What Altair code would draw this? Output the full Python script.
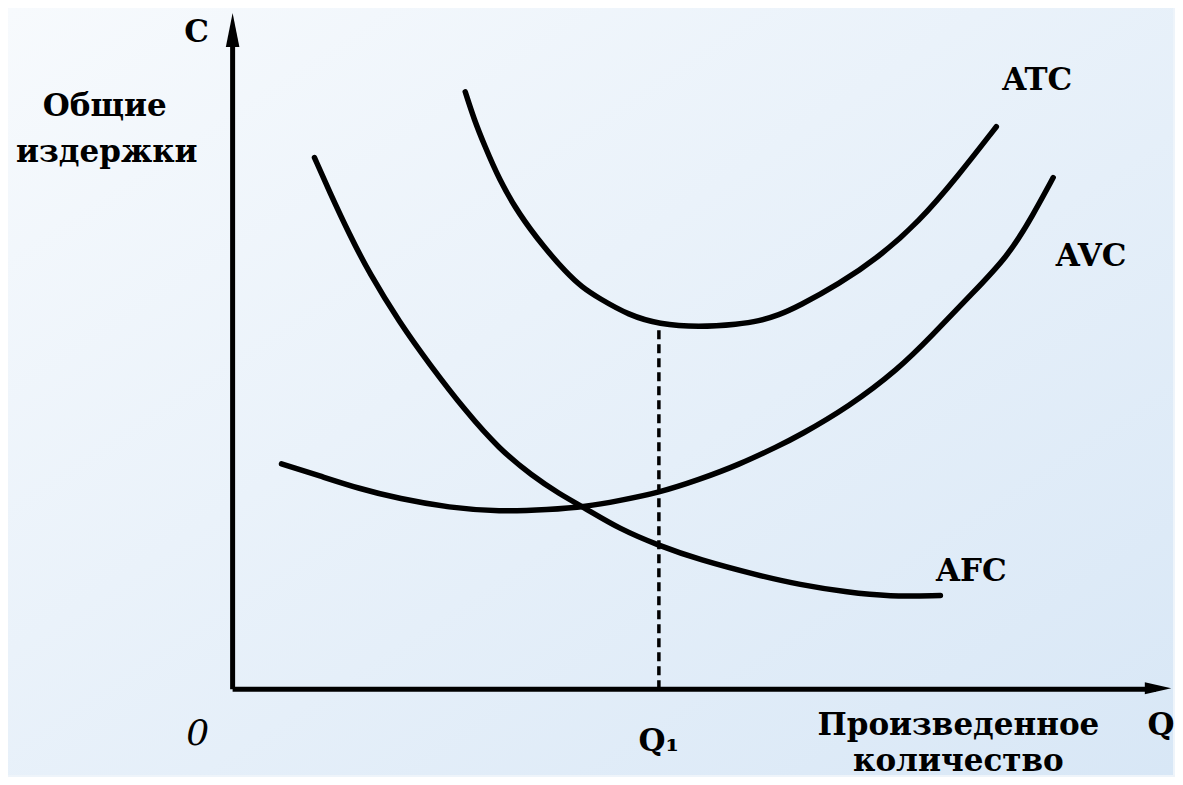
import altair as alt
import pandas as pd

# Data units: Q (quantity) and C (cost), origin at the axes' corner
atc_q = [233, 242, 252, 267, 287, 312, 334, 350, 367, 397, 427, 467, 507, 527, 547, 567, 607, 647, 687, 727, 765]
atc_c = [599, 571, 546, 511, 476, 443, 418, 403, 392, 375, 366, 363, 366, 369, 375, 384, 406, 433, 468, 515, 564]

avc_q = [49, 87, 127, 167, 217, 267, 317, 354, 387, 427, 467, 507, 547, 567, 617, 667, 700, 737, 777, 802, 822]
avc_c = [226, 214, 201, 191, 182, 178, 180, 183, 189, 197, 210, 225, 244, 254, 283, 321, 354, 393, 434, 476, 513]

afc_q = [82, 97, 117, 137, 167, 197, 234, 267, 300, 327, 354, 387, 427, 467, 527, 567, 617, 657, 709]
afc_c = [533, 499, 456, 417, 368, 326, 278, 241, 214, 196, 181, 161, 144, 130, 114, 105, 97, 93, 94]

q1 = 427
q1_top = 364

y_axis_q = [0, 0]
y_axis_c = [0, 655]
x_axis_q = [0, 925]
x_axis_c = [0, 0]

labels_text = ["C", "Общие", "издержки", "ATC", "AVC", "AFC", "Q₁", "Произведенное", "количество", "Q"]
labels_q = [-36, -128, -126, 806, 860, 740, 427, 727, 727, 930]
labels_c = [649, 575, 529, 601, 424, 109, -62, -46, -82, -46]

X_DOM = [-225, 942]
Y_DOM = [-86, 683]

xs = alt.Scale(domain=X_DOM, nice=False, zero=False)
ys = alt.Scale(domain=Y_DOM, nice=False, zero=False)

def curve_df(qs, cs, name):
    return pd.DataFrame({"Q": qs, "C": cs, "curve": name, "order": range(len(qs))})

curves = pd.concat([
    curve_df(atc_q, atc_c, "ATC"),
    curve_df(avc_q, avc_c, "AVC"),
    curve_df(afc_q, afc_c, "AFC"),
])

X = alt.X("Q:Q", scale=xs, axis=None)
Y = alt.Y("C:Q", scale=ys, axis=None)

bg = alt.Gradient(
    gradient="linear",
    stops=[alt.GradientStop(offset=0, color="#f7fafd"), alt.GradientStop(offset=1, color="#d8e7f6")],
    x1=0, y1=0, x2=1, y2=1,
)
bg_layer = alt.Chart(pd.DataFrame({"Q": [X_DOM[0]], "Q2": [X_DOM[1]], "C": [Y_DOM[0]], "C2": [Y_DOM[1]]})).mark_rect(
    color=bg
).encode(x=X, x2="Q2:Q", y=Y, y2="C2:Q")

curve_layer = alt.Chart(curves).mark_line(
    color="black", strokeWidth=5.5, interpolate="basis", strokeCap="round"
).encode(x=X, y=Y, detail="curve:N", order="order:Q")

axes_df = pd.concat([
    pd.DataFrame({"Q": y_axis_q, "C": y_axis_c, "ax": "y", "order": [0, 1]}),
    pd.DataFrame({"Q": x_axis_q, "C": x_axis_c, "ax": "x", "order": [0, 1]}),
])
axes_layer = alt.Chart(axes_df).mark_line(color="black", strokeWidth=5).encode(
    x=X, y=Y, detail="ax:N", order="order:Q"
)

arrow_up = alt.Chart(pd.DataFrame({"Q": [0], "C": [661]})).mark_point(
    shape="M0,-1L0.4,1L-0.4,1Z", filled=True, color="black", opacity=1, size=1150
).encode(x=X, y=Y)

arrow_right = alt.Chart(pd.DataFrame({"Q": [927], "C": [1]})).mark_point(
    shape="M1,0L-1,0.45L-1,-0.45Z", filled=True, color="black", opacity=1, size=700
).encode(x=X, y=Y)

dash_layer = alt.Chart(pd.DataFrame({"Q": [q1, q1], "C": [0, q1_top], "order": [0, 1]})).mark_line(
    color="black", strokeWidth=3.5, strokeDash=[9, 5]
).encode(x=X, y=Y, order="order:Q")

lab_df = pd.DataFrame({"text": labels_text, "Q": labels_q, "C": labels_c})
text_layer = alt.Chart(lab_df).mark_text(
    font="DejaVu Serif", fontSize=31, fontWeight="bold", color="black", align="center", baseline="alphabetic"
).encode(x=X, y=Y, text="text:N")

zero_layer = alt.Chart(pd.DataFrame({"text": ["0"], "Q": [-35], "C": [-56]})).mark_text(
    font="DejaVu Serif", fontSize=36, fontStyle="italic", color="black", align="center", baseline="alphabetic"
).encode(x=X, y=Y, text="text:N")

chart = alt.layer(
    bg_layer, axes_layer, arrow_up, arrow_right, dash_layer, curve_layer, text_layer, zero_layer
).properties(
    width=1167, height=769,
    autosize=alt.AutoSizeParams(type="fit", contains="padding"),
    padding=0,
    background="#eef4fa",
).configure_view(strokeWidth=0)

chart.save("out.html", embed_options={"renderer": "svg", "actions": False})
